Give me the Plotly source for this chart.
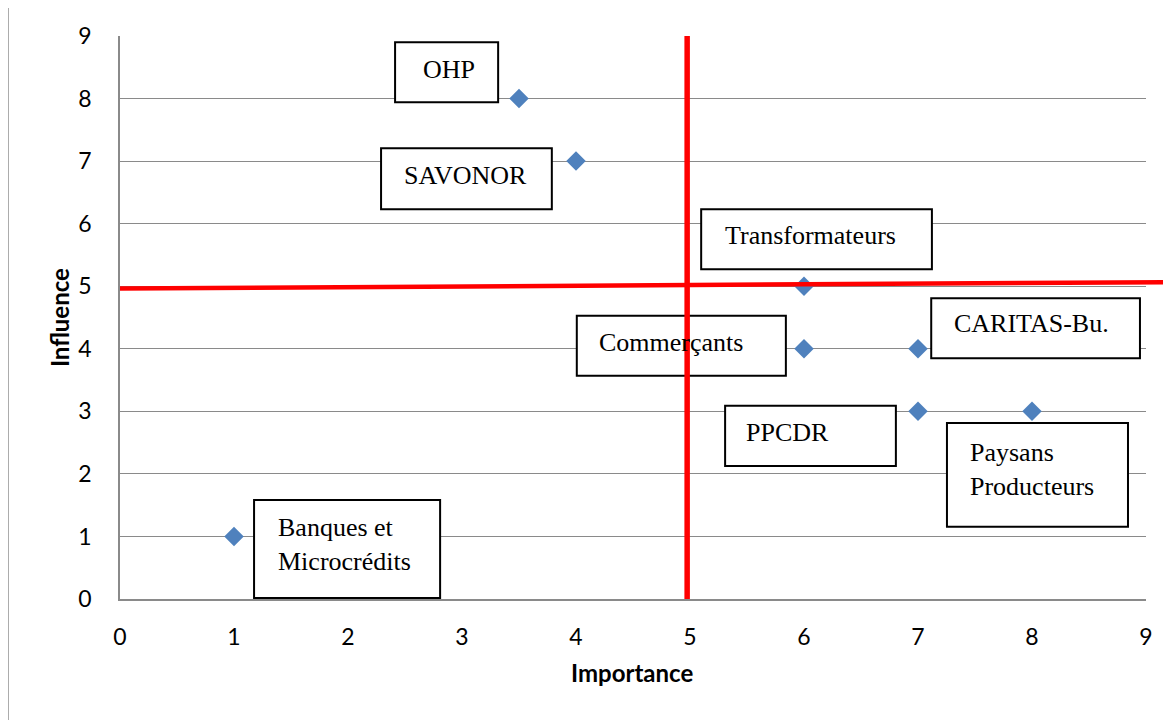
import plotly.graph_objects as go

# ---- data ----
actors = ["OHP", "SAVONOR", "Transformateurs", "Commerçants", "CARITAS-Bu.",
          "PPCDR", "Paysans<br>Producteurs", "Banques et<br>Microcrédits"]
importance = [3.5, 4, 6, 6, 7, 7, 8, 1]
influence = [8, 7, 5, 4, 4, 3, 3, 1]
x_ticks = [0, 1, 2, 3, 4, 5, 6, 7, 8, 9]
y_ticks = [0, 1, 2, 3, 4, 5, 6, 7, 8, 9]

# threshold lines (as drawn, slightly off exact 5)
importance_threshold = 4.975
influence_line_left = 4.964
influence_line_right = 5.065

# ---- label box layout (data units): x0, x1, y0, y1, text x, text y, anchor ----
label_layout = [
    (2.413, 3.317, 7.941, 8.899, 2.884, 8.468, "center"),
    (2.290, 3.788, 6.231, 7.206, 3.030, 6.769, "center"),
    (5.098, 7.122, 5.272, 6.231, 6.054, 5.816, "center"),
    (4.007, 5.841, 3.568, 4.526, 4.835, 4.106, "center"),
    (7.116, 8.947, 3.850, 4.809, 7.999, 4.397, "center"),
    (5.308, 6.806, 2.125, 3.088, 5.852, 2.660, "center"),
    (7.254, 8.842, 1.155, 2.812, 7.438, 2.077, "left"),
    (1.176, 2.808, 0.016, 1.582, 1.366, 0.878, "left"),
]

GRID = "#8a8a8a"
SERIF = "Liberation Serif, Times New Roman, serif"
SANS = "Lato, Calibri, sans-serif"

fig = go.Figure()
fig.add_trace(go.Scatter(
    x=importance, y=influence, mode="markers",
    marker=dict(symbol="diamond", size=15, color="#4F81BD"),
    hoverinfo="skip", showlegend=False,
))

shapes = []
annotations = []
for name, (x0, x1, y0, y1, tx, ty, anc) in zip(actors, label_layout):
    shapes.append(dict(type="rect", xref="x", yref="y", x0=x0, x1=x1, y0=y0, y1=y1,
                       line=dict(color="black", width=2), fillcolor="white", layer="above"))
    annotations.append(dict(x=tx, y=ty, xref="x", yref="y", text=name, showarrow=False,
                            xanchor=anc, yanchor="middle", align=anc,
                            font=dict(family=SERIF, size=26, color="black")))

# red threshold lines
shapes.append(dict(type="line", xref="x", yref="y", x0=importance_threshold, x1=importance_threshold,
                   y0=0, y1=9, line=dict(color="#FF0000", width=5.5), layer="above"))
shapes.append(dict(type="line", xref="paper", yref="y", x0=0, x1=1.0247,
                   y0=influence_line_left, y1=influence_line_right,
                   line=dict(color="#FF0000", width=4.5), layer="above"))
# outer chart frame
shapes.append(dict(type="rect", xref="paper", yref="paper", x0=-0.1092, x1=1.2, y0=-0.4, y1=1.0509,
                   line=dict(color=GRID, width=1.5), layer="below"))

annotations.append(dict(x=0.499, y=-0.1314, xref="paper", yref="paper", text="<b>Importance</b>",
                        showarrow=False, xanchor="center", yanchor="middle",
                        font=dict(family=SANS, size=24, color="black")))
annotations.append(dict(x=-0.0595, y=0.5006, xref="paper", yref="paper", text="<b>Influence</b>",
                        showarrow=False, xanchor="center", yanchor="middle", textangle=-90,
                        font=dict(family=SANS, size=24, color="black")))

# page body has an 8px offset, so margins compensate
fig.update_layout(
    width=1171, height=720,
    margin=dict(l=112, r=33.3, t=27.7, b=129, pad=0),
    paper_bgcolor="white", plot_bgcolor="white",
    shapes=shapes, annotations=annotations,
    xaxis=dict(range=[0, 9], tickvals=x_ticks, showgrid=False, zeroline=False,
               showline=True, linecolor=GRID, linewidth=1.5,
               ticks="outside", ticklen=17, tickcolor="rgba(0,0,0,0)",
               tickfont=dict(family=SANS, size=23, color="black")),
    yaxis=dict(range=[0, 9], tickvals=y_ticks, showgrid=True, gridcolor=GRID, gridwidth=1.3,
               zeroline=False, showline=True, linecolor=GRID, linewidth=1.5,
               ticks="outside", ticklen=22, tickcolor="rgba(0,0,0,0)",
               tickfont=dict(family=SANS, size=23, color="black")),
)

fig.write_html("out.html")
